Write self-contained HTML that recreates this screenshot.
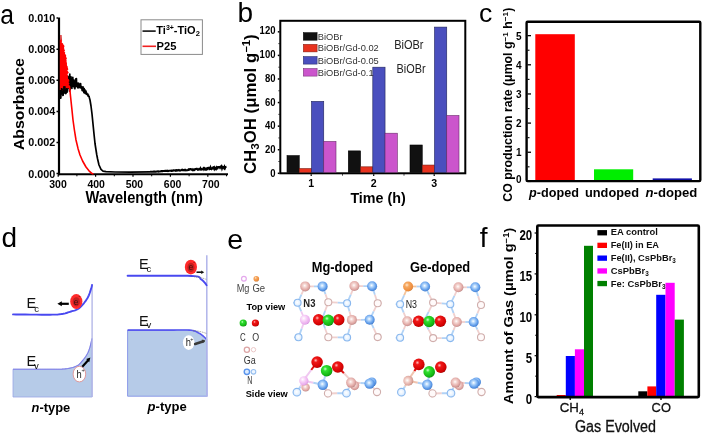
<!DOCTYPE html>
<html><head><meta charset="utf-8"><style>
html,body{margin:0;padding:0;background:#fff;}
body{width:704px;height:434px;overflow:hidden;}
svg{display:block;filter:blur(0.35px);}
text{font-family:"Liberation Sans",sans-serif;}
</style></head><body>
<svg width="704" height="434" viewBox="0 0 704 434" font-family="Liberation Sans, sans-serif">
<defs>
<radialGradient id="gGa" cx="0.45" cy="0.42" r="0.6"><stop offset="0" stop-color="#ffffff"/><stop offset="0.25" stop-color="#f6dad6"/><stop offset="0.7" stop-color="#e2aaa6"/><stop offset="0.9" stop-color="#cc9492"/><stop offset="1" stop-color="#b08280"/></radialGradient>
<radialGradient id="gN" cx="0.45" cy="0.42" r="0.6"><stop offset="0" stop-color="#ffffff"/><stop offset="0.25" stop-color="#bcdcfc"/><stop offset="0.7" stop-color="#64a0ec"/><stop offset="0.9" stop-color="#4c88d8"/><stop offset="1" stop-color="#3c70bc"/></radialGradient>
<radialGradient id="gO" cx="0.38" cy="0.35" r="0.7"><stop offset="0" stop-color="#ffc0c0"/><stop offset="0.25" stop-color="#f01818"/><stop offset="0.85" stop-color="#d00000"/><stop offset="1" stop-color="#900000"/></radialGradient>
<radialGradient id="gC" cx="0.38" cy="0.35" r="0.7"><stop offset="0" stop-color="#d0ffd0"/><stop offset="0.25" stop-color="#30e030"/><stop offset="0.85" stop-color="#10b010"/><stop offset="1" stop-color="#087008"/></radialGradient>
<radialGradient id="gMg" cx="0.38" cy="0.35" r="0.7"><stop offset="0" stop-color="#ffffff"/><stop offset="0.35" stop-color="#f8d4f8"/><stop offset="0.85" stop-color="#e8a8ec"/><stop offset="1" stop-color="#c888d0"/></radialGradient>
<radialGradient id="gGe" cx="0.38" cy="0.35" r="0.7"><stop offset="0" stop-color="#ffe8d0"/><stop offset="0.3" stop-color="#f6a860"/><stop offset="0.85" stop-color="#ec8a3a"/><stop offset="1" stop-color="#c06a20"/></radialGradient>
<radialGradient id="gGaR" cx="0.45" cy="0.45" r="0.6"><stop offset="0" stop-color="#ffffff"/><stop offset="0.55" stop-color="#fdf6f6"/><stop offset="0.8" stop-color="#ead2d0"/><stop offset="1" stop-color="#c8a4a2"/></radialGradient>
<radialGradient id="gNR" cx="0.45" cy="0.45" r="0.6"><stop offset="0" stop-color="#ffffff"/><stop offset="0.45" stop-color="#e4f2ff"/><stop offset="0.8" stop-color="#aad2f8"/><stop offset="1" stop-color="#78acea"/></radialGradient>
<radialGradient id="gNR2" cx="0.45" cy="0.45" r="0.6"><stop offset="0" stop-color="#ffffff"/><stop offset="0.6" stop-color="#e6f2ff"/><stop offset="1" stop-color="#c4defa"/></radialGradient>
<radialGradient id="gGeS" cx="0.4" cy="0.45" r="0.65"><stop offset="0" stop-color="#ffffff"/><stop offset="0.4" stop-color="#f0c8c0"/><stop offset="0.8" stop-color="#d8a098"/><stop offset="1" stop-color="#a87050"/></radialGradient>
</defs>
<rect width="704" height="434" fill="#fff"/>
<text transform="translate(0.3,24.2) scale(0.88,1)" font-size="28">a</text>
<line x1="59.0" y1="17.5" x2="59.0" y2="175.2" stroke="#000" stroke-width="2.2" />
<line x1="57.8" y1="174.2" x2="228" y2="174.2" stroke="#000" stroke-width="2" />
<line x1="56.5" y1="18.1" x2="58" y2="18.1" stroke="#000" stroke-width="1.5" />
<text x="55.3" y="22.0" font-size="11" font-weight="bold" text-anchor="end" fill="#000" textLength="27" lengthAdjust="spacingAndGlyphs" >0.010</text>
<line x1="56.5" y1="49.2" x2="58" y2="49.2" stroke="#000" stroke-width="1.5" />
<text x="55.3" y="53.1" font-size="11" font-weight="bold" text-anchor="end" fill="#000" textLength="27" lengthAdjust="spacingAndGlyphs" >0.008</text>
<line x1="56.5" y1="80.3" x2="58" y2="80.3" stroke="#000" stroke-width="1.5" />
<text x="55.3" y="84.2" font-size="11" font-weight="bold" text-anchor="end" fill="#000" textLength="27" lengthAdjust="spacingAndGlyphs" >0.006</text>
<line x1="56.5" y1="111.4" x2="58" y2="111.4" stroke="#000" stroke-width="1.5" />
<text x="55.3" y="115.30000000000001" font-size="11" font-weight="bold" text-anchor="end" fill="#000" textLength="27" lengthAdjust="spacingAndGlyphs" >0.004</text>
<line x1="56.5" y1="142.5" x2="58" y2="142.5" stroke="#000" stroke-width="1.5" />
<text x="55.3" y="146.4" font-size="11" font-weight="bold" text-anchor="end" fill="#000" textLength="27" lengthAdjust="spacingAndGlyphs" >0.002</text>
<line x1="56.5" y1="173.6" x2="58" y2="173.6" stroke="#000" stroke-width="1.5" />
<text x="55.3" y="177.5" font-size="11" font-weight="bold" text-anchor="end" fill="#000" textLength="27" lengthAdjust="spacingAndGlyphs" >0.000</text>
<text x="58.0" y="188.2" font-size="11" font-weight="bold" text-anchor="middle" fill="#000" textLength="17.5" lengthAdjust="spacingAndGlyphs" >300</text>
<line x1="58.2" y1="175" x2="58.2" y2="176.8" stroke="#000" stroke-width="1.2" />
<text x="96.2" y="188.2" font-size="11" font-weight="bold" text-anchor="middle" fill="#000" textLength="17.5" lengthAdjust="spacingAndGlyphs" >400</text>
<line x1="95.6" y1="175" x2="95.6" y2="176.8" stroke="#000" stroke-width="1.2" />
<text x="134.4" y="188.2" font-size="11" font-weight="bold" text-anchor="middle" fill="#000" textLength="17.5" lengthAdjust="spacingAndGlyphs" >500</text>
<line x1="133.0" y1="175" x2="133.0" y2="176.8" stroke="#000" stroke-width="1.2" />
<text x="172.60000000000002" y="188.2" font-size="11" font-weight="bold" text-anchor="middle" fill="#000" textLength="17.5" lengthAdjust="spacingAndGlyphs" >600</text>
<line x1="170.4" y1="175" x2="170.4" y2="176.8" stroke="#000" stroke-width="1.2" />
<text x="210.8" y="188.2" font-size="11" font-weight="bold" text-anchor="middle" fill="#000" textLength="17.5" lengthAdjust="spacingAndGlyphs" >700</text>
<line x1="207.8" y1="175" x2="207.8" y2="176.8" stroke="#000" stroke-width="1.2" />
<line x1="76.9" y1="175" x2="76.9" y2="176.3" stroke="#000" stroke-width="1" />
<line x1="114.30000000000001" y1="175" x2="114.30000000000001" y2="176.3" stroke="#000" stroke-width="1" />
<line x1="151.7" y1="175" x2="151.7" y2="176.3" stroke="#000" stroke-width="1" />
<line x1="189.10000000000002" y1="175" x2="189.10000000000002" y2="176.3" stroke="#000" stroke-width="1" />
<line x1="226.5" y1="175" x2="226.5" y2="176.3" stroke="#000" stroke-width="1" />
<text x="85.4" y="202.7" font-size="16.2" font-weight="bold" text-anchor="start" fill="#000" textLength="117.4" lengthAdjust="spacingAndGlyphs" >Wavelength (nm)</text>
<text transform="translate(23.6,150.3) rotate(-90)" font-size="14.8" font-weight="bold" textLength="92.3" lengthAdjust="spacingAndGlyphs">Absorbance</text>
<rect x="141" y="19.8" width="61.4" height="34.6" fill="#fff" stroke="#8a8a8a" stroke-width="1" />
<line x1="142.5" y1="31.1" x2="155.7" y2="31.1" stroke="#111" stroke-width="1.6" />
<line x1="142.5" y1="46.3" x2="156" y2="46.3" stroke="#f02020" stroke-width="1.6" />
<text x="156.3" y="33.6" font-size="11" font-weight="bold">Ti<tspan dy="-4" font-size="7">3+</tspan><tspan dy="4">-TiO</tspan><tspan dy="2.5" font-size="7.5">2</tspan></text>
<text x="156.6" y="49.8" font-size="11.3" font-weight="bold" text-anchor="start" fill="#000" textLength="19.9" lengthAdjust="spacingAndGlyphs" >P25</text>
<path d="M59.60,83.15 L59.90,98.02 L60.20,85.86 L60.50,98.09 L60.80,84.18 L61.10,94.54 L61.40,79.04 L61.70,92.51 L62.00,78.36 L62.30,92.65 L62.60,78.36 L62.90,95.40 L63.20,81.35 L63.50,88.10 L63.80,78.24 L64.10,93.21 L64.40,82.51 L64.70,86.17 L65.00,81.69 L65.30,90.76 L65.60,84.96 L65.90,93.54 L66.20,83.56 L66.50,91.01 L66.80,76.79 L67.10,92.18 L67.40,77.89 L67.70,85.56 L68.00,76.37 L68.30,87.30 L68.60,80.11 L68.90,88.81 L69.20,78.92 L69.50,91.24 L69.80,74.16 L70.10,89.62 L70.40,79.77 L70.70,87.54 L71.00,76.90 L71.30,86.15 L71.60,78.36 L71.90,88.37 L72.20,81.29 L72.50,85.21 L72.80,77.40 L73.10,86.11 L73.40,79.75 L73.70,84.01 L74.00,81.39 L74.30,87.90 L74.60,83.18 L74.90,88.81 L75.20,79.93 L75.50,85.00 L75.80,78.74 L76.10,86.71 L76.40,78.52 L76.70,85.83 L77.00,82.86 L77.30,86.48 L77.60,83.71 L77.90,87.92 L78.20,83.17 L78.50,86.75 L78.80,83.25 L79.10,87.60 L79.40,84.92 L79.70,85.98 L80.00,84.16 L80.30,87.50 L80.60,83.60 L80.90,88.03 L81.20,86.32 L81.50,87.80 L81.80,87.61 L82.10,90.53 L82.40,87.12 L82.70,90.06 L83.00,86.93 L83.30,91.21 L83.60,88.12 L83.90,92.63 L84.20,88.66 L84.50,91.72 L84.80,89.63 L85.10,93.47 L85.40,90.97 L85.70,92.81 L86.00,91.15 L86.30,94.26 L86.60,92.85 L86.90,94.17 L87.20,94.06 L87.50,94.90 L87.80,94.08 L88.10,96.16 L88.40,95.02 L88.70,96.27 L89.00,96.46 L89.00,96.50 L90.00,100.00 L91.00,106.00 L92.00,114.00 L93.00,124.00 L94.00,134.00 L95.00,143.50 L96.00,150.00 L96.80,155.00 L97.60,159.00 L99.00,165.00 L101.00,169.40 L103.00,171.10 L106.00,171.70 L115.00,172.00 L130.00,172.10 L150.00,171.90" fill="none" stroke="#000" stroke-width="1.7" stroke-linejoin="round"/>
<path d="M150.00,171.76 L150.50,171.74 L151.00,171.74 L151.50,171.71 L152.00,171.78 L152.50,171.80 L153.00,171.64 L153.50,171.51 L154.00,171.65 L154.50,171.60 L155.00,171.65 L155.50,171.78 L156.00,171.65 L156.50,171.55 L157.00,171.56 L157.50,171.56 L158.00,171.28 L158.50,171.59 L159.00,171.52 L159.50,171.53 L160.00,171.47 L160.50,171.28 L161.00,171.25 L161.50,171.11 L162.00,171.29 L162.50,171.04 L163.00,171.01 L163.50,171.04 L164.00,170.99 L164.50,171.04 L165.00,170.90 L165.50,170.85 L166.00,170.88 L166.50,170.83 L167.00,170.91 L167.50,170.75 L168.00,171.06 L168.50,170.93 L169.00,170.71 L169.50,170.73 L170.00,170.74 L170.50,170.72 L171.00,170.58 L171.50,170.88 L172.00,170.93 L172.50,170.65 L173.00,170.63 L173.50,170.38 L174.00,170.36 L174.50,170.46 L175.00,170.38 L175.50,170.70 L176.00,170.25 L176.50,170.13 L177.00,170.72 L177.50,170.41 L178.00,170.11 L178.50,170.36 L179.00,169.95 L179.50,170.30 L180.00,170.63 L180.50,170.52 L181.00,170.36 L181.50,169.96 L182.00,170.02 L182.50,169.82 L183.00,170.33 L183.50,170.09 L184.00,170.30 L184.50,169.84 L185.00,169.70 L185.50,170.26 L186.00,170.42 L186.50,170.26 L187.00,170.19 L187.50,170.18 L188.00,170.08 L188.50,169.47 L189.00,169.78 L189.50,169.56 L190.00,169.14 L190.50,169.10 L191.00,169.36 L191.50,169.30 L192.00,169.81 L192.50,170.12 L193.00,169.43 L193.50,170.04 L194.00,170.08 L194.50,170.01 L195.00,169.17 L195.50,168.93 L196.00,168.90 L196.50,168.82 L197.00,168.79 L197.50,169.37 L198.00,169.76 L198.50,169.64 L199.00,169.06 L199.50,169.29 L200.00,169.49 L200.50,168.32 L201.00,169.21 L201.50,169.59 L202.00,169.35 L202.50,169.27 L203.00,168.78 L203.50,168.23 L204.00,169.25 L204.50,168.42 L205.00,169.21 L205.50,169.49 L206.00,168.42 L206.50,168.40 L207.00,169.37 L207.50,168.93 L208.00,167.85 L208.50,167.73 L209.00,167.73 L209.50,169.16 L210.00,168.94 L210.50,167.60 L211.00,168.93 L211.50,169.21 L212.00,168.53 L212.50,167.86 L213.00,168.24 L213.50,167.32 L214.00,167.03 L214.50,169.05 L215.00,168.32 L215.50,168.01 L216.00,168.85 L216.50,167.70 L217.00,168.63 L217.50,168.48 L218.00,167.03 L218.50,167.06 L219.00,167.10 L219.50,166.92 L220.00,167.68 L220.50,166.85 L221.00,167.18 L221.50,166.43 L222.00,168.27 L222.50,166.86 L223.00,167.06 L223.50,167.32 L224.00,168.08 L224.50,166.81 L225.00,168.03 L225.50,166.91 L226.00,166.93 L226.50,166.86" fill="none" stroke="#000" stroke-width="2.1"/>
<polygon points="59.80,39.80 61.43,39.80 62.20,40.70 61.89,41.60 61.70,42.50 63.07,43.40 63.20,44.30 64.01,45.20 64.48,46.10 64.27,47.00 63.97,47.90 64.34,48.80 64.47,49.70 65.05,50.60 64.25,51.50 65.26,52.40 64.98,53.30 65.23,54.20 66.23,55.10 66.01,56.00 66.19,56.90 66.60,57.80 66.93,58.70 66.27,59.60 66.63,60.50 66.55,61.40 66.66,62.30 67.08,63.20 66.82,64.10 67.07,65.00 67.11,65.90 67.98,66.80 67.70,67.70 68.10,68.60 68.32,69.50 67.33,70.40 67.92,71.30 68.65,72.20 68.59,73.10 67.57,74.00 67.64,74.90 68.24,75.80 67.74,76.70 68.10,77.60 67.93,78.50 68.96,79.40 69.23,80.30 69.49,81.20 68.38,82.10 69.36,83.00 69.36,83.90 68.61,84.80 69.88,85.70 70.11,86.60 69.00,87.50 70.26,88.40 66.00,88.00 63.00,91.00 61.00,90.00 59.80,90.00" fill="#ff0000"/>
<path d="M60.6,40 L60.9,35 L61.5,40" fill="none" stroke="#d83030" stroke-width="1"/>
<path d="M69.30,86.00 L69.80,88.80 L70.50,96.00 L71.70,107.30 L73.00,120.00 L74.40,130.00 L76.00,140.00 L78.00,148.40 L80.00,155.00 L82.60,161.00 L86.00,167.00 L89.00,170.80 L91.50,173.20 L93.50,174.00" fill="none" stroke="#ff0000" stroke-width="1.6" stroke-linejoin="round"/>
<path d="M60.00,91.18 L60.35,92.33 L60.70,98.87 L61.05,96.82 L61.40,88.10 L61.75,91.61 L62.10,92.70 L62.45,90.41 L62.80,88.54 L63.15,90.14 L63.50,95.39 L63.85,86.25 L64.20,93.20 L64.55,91.73 L64.90,86.24 L65.25,90.31 L65.60,94.11 L65.95,92.66" fill="none" stroke="#000" stroke-width="1"/>
<text x="237.5" y="22.1" font-size="28" text-anchor="start" fill="#000" >b</text>
<rect x="280.3" y="20.8" width="185" height="152.5" fill="none" stroke="#000" stroke-width="2" />
<line x1="277.8" y1="173.3" x2="279.5" y2="173.3" stroke="#000" stroke-width="1.5" />
<text x="275.5" y="176.8" font-size="10.6" font-weight="bold" text-anchor="end" fill="#000" textLength="5.3" lengthAdjust="spacingAndGlyphs" >0</text>
<line x1="277.8" y1="149.72" x2="279.5" y2="149.72" stroke="#000" stroke-width="1.5" />
<text x="275.5" y="153.08" font-size="10.6" font-weight="bold" text-anchor="end" fill="#000" textLength="10.6" lengthAdjust="spacingAndGlyphs" >20</text>
<line x1="277.8" y1="126.14000000000001" x2="279.5" y2="126.14000000000001" stroke="#000" stroke-width="1.5" />
<text x="275.5" y="129.36" font-size="10.6" font-weight="bold" text-anchor="end" fill="#000" textLength="10.6" lengthAdjust="spacingAndGlyphs" >40</text>
<line x1="277.8" y1="102.56" x2="279.5" y2="102.56" stroke="#000" stroke-width="1.5" />
<text x="275.5" y="105.64" font-size="10.6" font-weight="bold" text-anchor="end" fill="#000" textLength="10.6" lengthAdjust="spacingAndGlyphs" >60</text>
<line x1="277.8" y1="78.98" x2="279.5" y2="78.98" stroke="#000" stroke-width="1.5" />
<text x="275.5" y="81.92" font-size="10.6" font-weight="bold" text-anchor="end" fill="#000" textLength="10.6" lengthAdjust="spacingAndGlyphs" >80</text>
<line x1="277.8" y1="55.400000000000006" x2="279.5" y2="55.400000000000006" stroke="#000" stroke-width="1.5" />
<text x="275.5" y="58.2" font-size="10.6" font-weight="bold" text-anchor="end" fill="#000" textLength="15.9" lengthAdjust="spacingAndGlyphs" >100</text>
<line x1="277.8" y1="31.819999999999993" x2="279.5" y2="31.819999999999993" stroke="#000" stroke-width="1.5" />
<text x="275.5" y="34.480000000000004" font-size="10.6" font-weight="bold" text-anchor="end" fill="#000" textLength="15.9" lengthAdjust="spacingAndGlyphs" >120</text>
<line x1="278.5" y1="161.51000000000002" x2="279.5" y2="161.51000000000002" stroke="#000" stroke-width="1" />
<line x1="278.5" y1="137.93" x2="279.5" y2="137.93" stroke="#000" stroke-width="1" />
<line x1="278.5" y1="114.35000000000001" x2="279.5" y2="114.35000000000001" stroke="#000" stroke-width="1" />
<line x1="278.5" y1="90.77000000000001" x2="279.5" y2="90.77000000000001" stroke="#000" stroke-width="1" />
<line x1="278.5" y1="67.19000000000001" x2="279.5" y2="67.19000000000001" stroke="#000" stroke-width="1" />
<line x1="278.5" y1="43.610000000000014" x2="279.5" y2="43.610000000000014" stroke="#000" stroke-width="1" />
<rect x="287.00" y="155.62" width="12.25" height="16.69" fill="#111111" stroke="#000" stroke-width="0.6"/>
<rect x="299.25" y="168.58" width="12.25" height="3.72" fill="#e8321e" stroke="#7a1a10" stroke-width="0.6"/>
<rect x="311.50" y="101.38" width="12.25" height="70.92" fill="#4a4fbe" stroke="#20245a" stroke-width="0.6"/>
<rect x="323.75" y="141.47" width="12.25" height="30.83" fill="#cb55cc" stroke="#6a2a6a" stroke-width="0.6"/>
<rect x="348.30" y="150.90" width="12.25" height="21.40" fill="#111111" stroke="#000" stroke-width="0.6"/>
<rect x="360.55" y="166.82" width="12.25" height="5.48" fill="#e8321e" stroke="#7a1a10" stroke-width="0.6"/>
<rect x="372.80" y="67.19" width="12.25" height="105.11" fill="#4a4fbe" stroke="#20245a" stroke-width="0.6"/>
<rect x="385.05" y="133.21" width="12.25" height="39.09" fill="#cb55cc" stroke="#6a2a6a" stroke-width="0.6"/>
<rect x="410.00" y="145.00" width="12.25" height="27.30" fill="#111111" stroke="#000" stroke-width="0.6"/>
<rect x="422.25" y="165.05" width="12.25" height="7.25" fill="#e8321e" stroke="#7a1a10" stroke-width="0.6"/>
<rect x="434.50" y="27.10" width="12.25" height="145.20" fill="#4a4fbe" stroke="#20245a" stroke-width="0.6"/>
<rect x="446.75" y="115.53" width="12.25" height="56.77" fill="#cb55cc" stroke="#6a2a6a" stroke-width="0.6"/>
<line x1="311.2" y1="174.3" x2="311.2" y2="176" stroke="#000" stroke-width="1.2" />
<text x="311.2" y="187.2" font-size="10.6" font-weight="bold" text-anchor="middle" fill="#000" >1</text>
<line x1="373.7" y1="174.3" x2="373.7" y2="176" stroke="#000" stroke-width="1.2" />
<text x="373.7" y="187.2" font-size="10.6" font-weight="bold" text-anchor="middle" fill="#000" >2</text>
<line x1="434.2" y1="174.3" x2="434.2" y2="176" stroke="#000" stroke-width="1.2" />
<text x="434.2" y="187.2" font-size="10.6" font-weight="bold" text-anchor="middle" fill="#000" >3</text>
<line x1="342.5" y1="174.3" x2="342.5" y2="175.5" stroke="#000" stroke-width="1" />
<line x1="404" y1="174.3" x2="404" y2="175.5" stroke="#000" stroke-width="1" />
<text x="350.4" y="203.3" font-size="15.5" font-weight="bold" text-anchor="start" fill="#000" textLength="55.4" lengthAdjust="spacingAndGlyphs" >Time (h)</text>
<rect x="303.3" y="32.6" width="13.8" height="7.6" fill="#111111" stroke="#000" stroke-width="0.5" />
<text x="317.8" y="39.7" font-size="9.3" text-anchor="start" fill="#333" >BiOBr</text>
<rect x="303.3" y="44.3" width="13.8" height="7.6" fill="#e8321e" stroke="#7a1a10" stroke-width="0.5" />
<text x="317.8" y="51.4" font-size="9.3" text-anchor="start" fill="#333" >BiOBr/Gd-0.02</text>
<rect x="303.3" y="56.5" width="13.8" height="7.6" fill="#4a4fbe" stroke="#20245a" stroke-width="0.5" />
<text x="317.8" y="63.6" font-size="9.3" text-anchor="start" fill="#333" >BiOBr/Gd-0.05</text>
<rect x="303.3" y="68.5" width="13.8" height="7.6" fill="#cb55cc" stroke="#6a2a6a" stroke-width="0.5" />
<text x="317.8" y="75.6" font-size="9.3" text-anchor="start" fill="#333" >BiOBr/Gd-0.1</text>
<text x="394.2" y="49" font-size="12" text-anchor="start" fill="#222" textLength="29.3" lengthAdjust="spacingAndGlyphs" >BiOBr</text>
<text x="396.6" y="73" font-size="12" text-anchor="start" fill="#222" textLength="29" lengthAdjust="spacingAndGlyphs" >BiOBr</text>
<text transform="translate(255.7,174) rotate(-90)" font-size="15.8" font-weight="bold" textLength="139.5" lengthAdjust="spacingAndGlyphs">CH<tspan dy="3.5" font-size="11">3</tspan><tspan dy="-3.5">OH (μmol g</tspan><tspan dy="-6" font-size="10.5">−1</tspan><tspan dy="6">)</tspan></text>
<text transform="translate(479,21.5) scale(0.95,0.93)" font-size="28">c</text>
<line x1="527.5" y1="181.4" x2="531" y2="181.4" stroke="#000" stroke-width="1.3" />
<text x="521.6" y="183.20000000000002" font-size="10" font-weight="bold" text-anchor="end" fill="#000" >0</text>
<line x1="527.5" y1="152.25" x2="531" y2="152.25" stroke="#000" stroke-width="1.3" />
<text x="521.6" y="156.25" font-size="10" font-weight="bold" text-anchor="end" fill="#000" >1</text>
<line x1="527.5" y1="123.10000000000001" x2="531" y2="123.10000000000001" stroke="#000" stroke-width="1.3" />
<text x="521.6" y="127.10000000000001" font-size="10" font-weight="bold" text-anchor="end" fill="#000" >2</text>
<line x1="527.5" y1="93.95000000000002" x2="531" y2="93.95000000000002" stroke="#000" stroke-width="1.3" />
<text x="521.6" y="97.95000000000002" font-size="10" font-weight="bold" text-anchor="end" fill="#000" >3</text>
<line x1="527.5" y1="64.80000000000001" x2="531" y2="64.80000000000001" stroke="#000" stroke-width="1.3" />
<text x="521.6" y="68.80000000000001" font-size="10" font-weight="bold" text-anchor="end" fill="#000" >4</text>
<line x1="527.5" y1="35.650000000000006" x2="531" y2="35.650000000000006" stroke="#000" stroke-width="1.3" />
<text x="521.6" y="39.650000000000006" font-size="10" font-weight="bold" text-anchor="end" fill="#000" >5</text>
<line x1="527.5" y1="166.82500000000002" x2="529.5" y2="166.82500000000002" stroke="#000" stroke-width="1.1" />
<line x1="527.5" y1="137.675" x2="529.5" y2="137.675" stroke="#000" stroke-width="1.1" />
<line x1="527.5" y1="108.525" x2="529.5" y2="108.525" stroke="#000" stroke-width="1.1" />
<line x1="527.5" y1="79.37500000000001" x2="529.5" y2="79.37500000000001" stroke="#000" stroke-width="1.1" />
<line x1="527.5" y1="50.22500000000002" x2="529.5" y2="50.22500000000002" stroke="#000" stroke-width="1.1" />
<rect x="535.3" y="34.2" width="39.5" height="146.89999999999998" fill="#ff0000" stroke="none" stroke-width="0" />
<rect x="594.0" y="169.3" width="39.2" height="11.8" fill="#00ee00" stroke="none" stroke-width="0" />
<rect x="652.7" y="178.4" width="39.2" height="2.7" fill="#1010a8" stroke="none" stroke-width="0" />
<rect x="526.6" y="21.8" width="173.7" height="159.3" fill="none" stroke="#000" stroke-width="2.4" rx="1"/>
<text x="529" y="197.4" font-size="13" font-weight="bold" textLength="49.9" lengthAdjust="spacingAndGlyphs"><tspan font-style="italic">p</tspan>-doped</text>
<text x="585" y="197.4" font-size="13" font-weight="bold" text-anchor="start" fill="#000" textLength="54" lengthAdjust="spacingAndGlyphs" >undoped</text>
<text x="645.6" y="197.4" font-size="13" font-weight="bold" textLength="51.8" lengthAdjust="spacingAndGlyphs"><tspan font-style="italic">n</tspan>-doped</text>
<text transform="translate(512,201.7) rotate(-90)" font-size="12" font-weight="bold" textLength="194" lengthAdjust="spacingAndGlyphs">CO production rate (μmol g<tspan dy="-4.5" font-size="8">−1</tspan><tspan dy="4.5"> h</tspan><tspan dy="-4.5" font-size="8">−1</tspan><tspan dy="4.5">)</tspan></text>
<text x="1.5" y="247.3" font-size="28" text-anchor="start" fill="#000" >d</text>
<polygon points="13.00,369.20 16.00,369.20 20.16,369.21 25.13,369.21 30.56,369.22 36.11,369.22 41.43,369.22 46.17,369.21 50.00,369.20 52.95,369.19 55.38,369.20 57.39,369.22 59.09,369.23 60.60,369.21 62.01,369.16 63.44,369.06 65.00,368.90 66.64,368.69 68.25,368.43 69.82,368.14 71.33,367.81 72.76,367.44 74.11,367.03 75.36,366.58 76.50,366.10 77.51,365.57 78.38,364.99 79.15,364.37 79.83,363.72 80.46,363.04 81.07,362.33 81.67,361.62 82.30,360.90 82.94,360.17 83.57,359.42 84.19,358.64 84.78,357.86 85.35,357.05 85.90,356.24 86.41,355.42 86.90,354.60 87.35,353.78 87.76,352.97 88.14,352.16 88.50,351.33 88.84,350.48 89.16,349.60 89.48,348.68 89.80,347.70 90.12,346.60 90.45,345.35 90.77,344.01 91.08,342.67 91.37,341.38 91.62,340.21 91.84,339.23 92.00,338.50 92.1,397 13,397" fill="#b6cbe8" stroke="#9aa6e6" stroke-width="0.8"/>
<polyline points="13.00,369.20 16.00,369.20 20.16,369.21 25.13,369.21 30.56,369.22 36.11,369.22 41.43,369.22 46.17,369.21 50.00,369.20 52.95,369.19 55.38,369.20 57.39,369.22 59.09,369.23 60.60,369.21 62.01,369.16 63.44,369.06 65.00,368.90 66.64,368.69 68.25,368.43 69.82,368.14 71.33,367.81 72.76,367.44 74.11,367.03 75.36,366.58 76.50,366.10 77.51,365.57 78.38,364.99 79.15,364.37 79.83,363.72 80.46,363.04 81.07,362.33 81.67,361.62 82.30,360.90 82.94,360.17 83.57,359.42 84.19,358.64 84.78,357.86 85.35,357.05 85.90,356.24 86.41,355.42 86.90,354.60 87.35,353.78 87.76,352.97 88.14,352.16 88.50,351.33 88.84,350.48 89.16,349.60 89.48,348.68 89.80,347.70 90.12,346.60 90.45,345.35 90.77,344.01 91.08,342.67 91.37,341.38 91.62,340.21 91.84,339.23 92.00,338.50" fill="none" stroke="#8080e8" stroke-width="1.1"/>
<line x1="92.1" y1="285" x2="92.1" y2="397" stroke="#b4b8e8" stroke-width="1.4" />
<polyline points="13.00,314.40 16.03,314.43 20.23,314.48 25.26,314.53 30.75,314.59 36.33,314.65 41.64,314.69 46.32,314.71 50.00,314.70 52.72,314.67 54.85,314.63 56.51,314.58 57.81,314.51 58.89,314.42 59.87,314.30 60.86,314.17 62.00,314.00 63.19,313.80 64.28,313.57 65.29,313.31 66.25,313.03 67.18,312.73 68.09,312.43 69.03,312.11 70.00,311.80 71.02,311.50 72.05,311.21 73.10,310.92 74.14,310.62 75.16,310.29 76.15,309.92 77.11,309.49 78.00,309.00 78.84,308.44 79.63,307.81 80.39,307.13 81.11,306.41 81.81,305.66 82.49,304.88 83.15,304.09 83.80,303.30 84.44,302.50 85.07,301.67 85.69,300.83 86.28,299.96 86.85,299.08 87.40,298.17 87.91,297.25 88.40,296.30 88.86,295.29 89.30,294.19 89.71,293.05 90.09,291.90 90.45,290.78 90.77,289.73 91.05,288.79 91.30,288.00 91.50,287.35 91.65,286.81 91.75,286.35 91.83,285.98 91.89,285.67 91.93,285.41 91.96,285.20 92.00,285.00" fill="none" stroke="#4848f0" stroke-width="1.9" stroke-linecap="round"/>
<ellipse cx="76.3" cy="301.5" rx="6.1" ry="7.4" fill="#ff2a2a"/>
<ellipse cx="76.3" cy="301.8" rx="3.6" ry="4.6" fill="#c42020"/>
<text x="73.8" y="304.7" font-size="8.5" fill="#3a1010">e</text>
<text x="78.6" y="298.3" font-size="5" fill="#3a1010">-</text>
<line x1="60.5" y1="303.8" x2="68.8" y2="303.8" stroke="#000" stroke-width="2.2" />
<polygon points="57.4,303.8 61.8,301.3 61.8,306.3" fill="#000"/>
<ellipse cx="79.4" cy="374.1" rx="6.3" ry="7.8" fill="#fff" stroke="#e09090" stroke-width="0.9"/>
<text x="76.5" y="377.8" font-size="10" fill="#222" textLength="5.2" lengthAdjust="spacingAndGlyphs">h</text>
<text x="81.4" y="371.6" font-size="5.5" fill="#222">+</text>
<line x1="82.3" y1="366.7" x2="88.4" y2="360.0" stroke="#000" stroke-width="2.1" />
<polygon points="90.4,357.6 86.2,359.0 89.2,362.2" fill="#000"/>
<text x="26.4" y="308.4" font-size="14.5" fill="#111">E<tspan x="34.3" y="312.4" font-size="9.5">c</tspan></text>
<text x="26.4" y="366.1" font-size="14.5" fill="#111">E<tspan x="33.9" y="368.8" font-size="9.5">v</tspan></text>
<text x="31.5" y="411.8" font-size="13" font-weight="bold" textLength="38.7" lengthAdjust="spacingAndGlyphs"><tspan font-style="italic">n</tspan>-type</text>
<polygon points="127.60,330.10 131.02,330.10 135.72,330.10 141.33,330.09 147.48,330.09 153.80,330.09 159.90,330.09 165.43,330.09 170.00,330.10 173.75,330.10 177.08,330.07 180.04,330.04 182.69,330.01 185.08,330.01 187.24,330.05 189.23,330.14 191.10,330.30 192.76,330.54 194.14,330.86 195.27,331.23 196.22,331.64 197.03,332.07 197.77,332.50 198.47,332.92 199.20,333.30 199.90,333.65 200.50,334.00 201.02,334.33 201.48,334.67 201.91,335.01 202.32,335.36 202.75,335.72 203.20,336.10 203.69,336.53 204.21,337.01 204.74,337.52 205.25,338.03 205.73,338.51 206.16,338.95 206.52,339.33 206.80,339.60 207.1,396.2 127.6,396.2" fill="#b6cbe8" stroke="#8c9ae8" stroke-width="1"/>
<polyline points="127.60,330.10 131.02,330.10 135.72,330.10 141.33,330.09 147.48,330.09 153.80,330.09 159.90,330.09 165.43,330.09 170.00,330.10 173.75,330.10 177.08,330.07 180.04,330.04 182.69,330.01 185.08,330.01 187.24,330.05 189.23,330.14 191.10,330.30 192.76,330.54 194.14,330.86 195.27,331.23 196.22,331.64 197.03,332.07 197.77,332.50 198.47,332.92 199.20,333.30 199.90,333.65 200.50,334.00 201.02,334.33 201.48,334.67 201.91,335.01 202.32,335.36 202.75,335.72 203.20,336.10 203.69,336.53 204.21,337.01 204.74,337.52 205.25,338.03 205.73,338.51 206.16,338.95 206.52,339.33 206.80,339.60" fill="none" stroke="#5858f0" stroke-width="1.6"/>
<line x1="206.8" y1="255.2" x2="206.8" y2="397" stroke="#b0b4ea" stroke-width="1.5" />
<polyline points="127.60,275.70 130.09,275.71 133.37,275.71 137.28,275.72 141.64,275.73 146.27,275.74 150.99,275.76 155.63,275.78 160.00,275.80 164.40,275.81 169.13,275.80 174.01,275.77 178.87,275.76 183.52,275.77 187.79,275.82 191.51,275.93 194.50,276.10 196.67,276.35 198.16,276.68 199.12,277.05 199.69,277.47 200.01,277.91 200.24,278.35 200.52,278.79 201.00,279.20 201.59,279.60 202.12,280.00 202.59,280.41 203.03,280.82 203.42,281.22 203.79,281.63 204.15,282.02 204.50,282.40 204.84,282.79 205.17,283.19 205.48,283.60 205.77,284.00 206.03,284.37 206.26,284.71 206.45,284.99 206.60,285.20" fill="none" stroke="#4848f0" stroke-width="1.9" stroke-linecap="round"/>
<path d="M194,276.8 Q201,277.2 206.5,279.5" fill="none" stroke="#777" stroke-width="0.8" stroke-dasharray="1,0.8"/>
<path d="M193,330.6 Q200,331 206.5,333.5" fill="none" stroke="#777" stroke-width="0.8" stroke-dasharray="1,0.8"/>
<ellipse cx="190.9" cy="267.1" rx="6.1" ry="7.4" fill="#ff2a2a"/>
<ellipse cx="190.9" cy="267.40000000000003" rx="3.6" ry="4.6" fill="#c42020"/>
<text x="188.4" y="270.3" font-size="8.5" fill="#3a1010">e</text>
<text x="193.20000000000002" y="263.90000000000003" font-size="5" fill="#3a1010">-</text>
<line x1="196.5" y1="272.2" x2="201.8" y2="272.2" stroke="#111" stroke-width="1.6" />
<polygon points="204.2,272.2 201.2,270.5 201.2,273.9" fill="#111"/>
<ellipse cx="188.7" cy="342.6" rx="5.8" ry="7.3" fill="#fff"/>
<text x="185.8" y="346.3" font-size="10" fill="#222" textLength="5.2" lengthAdjust="spacingAndGlyphs">h</text>
<text x="190.2" y="340.5" font-size="5.5" fill="#222">+</text>
<path d="M195.2,344 L203.5,341.2" stroke="#3a3a3a" stroke-width="2.6" stroke-linecap="round"/>
<polygon points="205.3,340.8 201.8,339.4 202.6,343.2" fill="#3a3a3a"/>
<text x="138.9" y="268.8" font-size="14.5" fill="#111">E<tspan x="146.4" y="271.5" font-size="9.5">c</tspan></text>
<text x="139.1" y="325.6" font-size="14.5" fill="#111">E<tspan x="146.6" y="328.3" font-size="9.5">v</tspan></text>
<text x="147.6" y="411" font-size="13" font-weight="bold" textLength="39.2" lengthAdjust="spacingAndGlyphs"><tspan font-style="italic">p</tspan>-type</text>
<text x="227.2" y="249.3" font-size="28.5" text-anchor="start" fill="#000" >e</text>
<text x="311.8" y="271.8" font-size="14.3" font-weight="bold" text-anchor="start" fill="#000" textLength="61.2" lengthAdjust="spacingAndGlyphs" >Mg-doped</text>
<text x="410" y="271.8" font-size="14.3" font-weight="bold" text-anchor="start" fill="#000" textLength="60.2" lengthAdjust="spacingAndGlyphs" >Ge-doped</text>
<text x="246.5" y="310.3" font-size="9.6" font-weight="bold" text-anchor="start" fill="#000" textLength="38.8" lengthAdjust="spacingAndGlyphs" >Top view</text>
<text x="245.7" y="396.5" font-size="9.6" font-weight="bold" text-anchor="start" fill="#000" textLength="42.1" lengthAdjust="spacingAndGlyphs" >Side view</text>
<text x="236.7" y="291.5" font-size="10" text-anchor="start" fill="#444" textLength="12.7" lengthAdjust="spacingAndGlyphs" >Mg</text>
<text x="252.4" y="291.5" font-size="10" text-anchor="start" fill="#444" textLength="12.7" lengthAdjust="spacingAndGlyphs" >Ge</text>
<text x="240" y="340.7" font-size="10" text-anchor="start" fill="#333" textLength="5.7" lengthAdjust="spacingAndGlyphs" >C</text>
<text x="252.3" y="340.7" font-size="10" text-anchor="start" fill="#333" textLength="6.9" lengthAdjust="spacingAndGlyphs" >O</text>
<text x="243.8" y="364.4" font-size="10" text-anchor="start" fill="#333" textLength="12" lengthAdjust="spacingAndGlyphs" >Ga</text>
<text x="247.2" y="384.3" font-size="10" text-anchor="start" fill="#333" textLength="5.1" lengthAdjust="spacingAndGlyphs" >N</text>
<circle cx="243.9" cy="278.7" r="2.4" fill="#fff" stroke="#e4a8ec" stroke-width="1.2"/>
<circle cx="256.3" cy="278.7" r="2.8" fill="url(#gGe)"/>
<circle cx="243.2" cy="323.0" r="3.6" fill="url(#gC)"/>
<circle cx="255.4" cy="323.0" r="3.6" fill="url(#gO)"/>
<circle cx="246.9" cy="349.7" r="2.6" fill="#fff" stroke="#dca4a4" stroke-width="1.3"/>
<circle cx="253.5" cy="349.7" r="2.2" fill="#fff" stroke="#ecc8c8" stroke-width="1"/>
<circle cx="246.9" cy="371.8" r="2.7" fill="#dcecff" stroke="#5a94ec" stroke-width="1.4"/>
<circle cx="253.5" cy="371.8" r="2.3" fill="#eef6ff" stroke="#98c0f0" stroke-width="1.1"/>
<line x1="305.2" y1="286.4" x2="313.9" y2="286.4" stroke="#f0d0ce" stroke-width="1.8"/>
<line x1="313.9" y1="286.4" x2="322.6" y2="286.4" stroke="#b0d2f6" stroke-width="1.8"/>
<line x1="354.4" y1="286.0" x2="363.2" y2="286.1" stroke="#f0d0ce" stroke-width="1.8"/>
<line x1="363.2" y1="286.1" x2="372.1" y2="286.2" stroke="#b0d2f6" stroke-width="1.8"/>
<line x1="305.2" y1="286.4" x2="301.4" y2="294.6" stroke="#f0d0ce" stroke-width="1.8"/>
<line x1="301.4" y1="294.6" x2="297.6" y2="302.8" stroke="#b0d2f6" stroke-width="1.8"/>
<line x1="322.6" y1="286.4" x2="325.5" y2="294.3" stroke="#b0d2f6" stroke-width="1.8"/>
<line x1="325.5" y1="294.3" x2="328.3" y2="302.2" stroke="#f0d0ce" stroke-width="1.8"/>
<line x1="354.4" y1="286.0" x2="350.8" y2="294.6" stroke="#f0d0ce" stroke-width="1.8"/>
<line x1="350.8" y1="294.6" x2="347.1" y2="303.2" stroke="#b0d2f6" stroke-width="1.8"/>
<line x1="372.1" y1="286.2" x2="374.9" y2="294.7" stroke="#b0d2f6" stroke-width="1.8"/>
<line x1="374.9" y1="294.7" x2="377.7" y2="303.2" stroke="#f0d0ce" stroke-width="1.8"/>
<line x1="328.3" y1="302.2" x2="337.7" y2="302.7" stroke="#f0d0ce" stroke-width="1.8"/>
<line x1="337.7" y1="302.7" x2="347.1" y2="303.2" stroke="#b0d2f6" stroke-width="1.8"/>
<line x1="297.6" y1="302.8" x2="301.2" y2="311.3" stroke="#b0d2f6" stroke-width="1.8"/>
<line x1="301.2" y1="311.3" x2="304.9" y2="319.8" stroke="#f0c8f0" stroke-width="1.8"/>
<line x1="347.1" y1="303.2" x2="349.5" y2="311.5" stroke="#b0d2f6" stroke-width="1.8"/>
<line x1="349.5" y1="311.5" x2="351.9" y2="319.9" stroke="#f0d0ce" stroke-width="1.8"/>
<line x1="377.7" y1="303.2" x2="373.7" y2="311.4" stroke="#f0d0ce" stroke-width="1.8"/>
<line x1="373.7" y1="311.4" x2="369.7" y2="319.7" stroke="#b0d2f6" stroke-width="1.8"/>
<line x1="351.9" y1="319.9" x2="360.8" y2="319.8" stroke="#f0d0ce" stroke-width="1.8"/>
<line x1="360.8" y1="319.8" x2="369.7" y2="319.7" stroke="#b0d2f6" stroke-width="1.8"/>
<line x1="304.9" y1="319.8" x2="301.7" y2="328.6" stroke="#f0c8f0" stroke-width="1.8"/>
<line x1="301.7" y1="328.6" x2="298.5" y2="337.3" stroke="#b0d2f6" stroke-width="1.8"/>
<line x1="351.9" y1="319.9" x2="349.5" y2="328.7" stroke="#f0d0ce" stroke-width="1.8"/>
<line x1="349.5" y1="328.7" x2="347.1" y2="337.5" stroke="#b0d2f6" stroke-width="1.8"/>
<line x1="369.7" y1="319.7" x2="373.7" y2="328.4" stroke="#b0d2f6" stroke-width="1.8"/>
<line x1="373.7" y1="328.4" x2="377.7" y2="337.1" stroke="#f0d0ce" stroke-width="1.8"/>
<line x1="328.3" y1="337.3" x2="337.7" y2="337.4" stroke="#f0d0ce" stroke-width="1.8"/>
<line x1="337.7" y1="337.4" x2="347.1" y2="337.5" stroke="#b0d2f6" stroke-width="1.8"/>
<line x1="328.3" y1="302.2" x2="325.1" y2="310.9" stroke="#f0d0ce" stroke-width="1.8"/>
<line x1="325.1" y1="310.9" x2="322.0" y2="319.7" stroke="#b0d2f6" stroke-width="1.8"/>
<line x1="328.3" y1="337.3" x2="325.1" y2="328.5" stroke="#f0d0ce" stroke-width="1.8"/>
<line x1="325.1" y1="328.5" x2="322.0" y2="319.7" stroke="#b0d2f6" stroke-width="1.8"/>
<line x1="305.2" y1="286.4" x2="303.2" y2="282.4" stroke="#f0d0ce" stroke-width="1.6"/>
<line x1="303.2" y1="282.4" x2="301.2" y2="278.4" stroke="#fff0" stroke-width="1.6"/>
<line x1="322.6" y1="286.4" x2="324.6" y2="282.4" stroke="#b0d2f6" stroke-width="1.6"/>
<line x1="324.6" y1="282.4" x2="326.6" y2="278.4" stroke="#fff0" stroke-width="1.6"/>
<line x1="354.4" y1="286.0" x2="352.4" y2="282.0" stroke="#f0d0ce" stroke-width="1.6"/>
<line x1="352.4" y1="282.0" x2="350.4" y2="278.0" stroke="#fff0" stroke-width="1.6"/>
<line x1="372.1" y1="286.2" x2="374.1" y2="282.2" stroke="#b0d2f6" stroke-width="1.6"/>
<line x1="374.1" y1="282.2" x2="376.1" y2="278.2" stroke="#fff0" stroke-width="1.6"/>
<line x1="297.6" y1="302.8" x2="293.1" y2="302.8" stroke="#b0d2f6" stroke-width="1.6"/>
<line x1="293.1" y1="302.8" x2="288.6" y2="302.8" stroke="#fff0" stroke-width="1.6"/>
<line x1="298.5" y1="337.3" x2="294.0" y2="337.3" stroke="#b0d2f6" stroke-width="1.6"/>
<line x1="294.0" y1="337.3" x2="289.5" y2="337.3" stroke="#fff0" stroke-width="1.6"/>
<line x1="377.7" y1="303.2" x2="381.7" y2="303.2" stroke="#f0d0ce" stroke-width="1.6"/>
<line x1="381.7" y1="303.2" x2="385.7" y2="303.2" stroke="#fff0" stroke-width="1.6"/>
<line x1="377.7" y1="337.1" x2="381.7" y2="337.1" stroke="#f0d0ce" stroke-width="1.6"/>
<line x1="381.7" y1="337.1" x2="385.7" y2="337.1" stroke="#fff0" stroke-width="1.6"/>
<line x1="298.5" y1="337.3" x2="300.0" y2="340.8" stroke="#b0d2f6" stroke-width="1.6"/>
<line x1="300.0" y1="340.8" x2="301.5" y2="344.3" stroke="#fff0" stroke-width="1.6"/>
<line x1="328.3" y1="337.3" x2="326.8" y2="340.8" stroke="#f0d0ce" stroke-width="1.6"/>
<line x1="326.8" y1="340.8" x2="325.3" y2="344.3" stroke="#fff0" stroke-width="1.6"/>
<line x1="347.1" y1="337.5" x2="348.6" y2="341.0" stroke="#b0d2f6" stroke-width="1.6"/>
<line x1="348.6" y1="341.0" x2="350.1" y2="344.5" stroke="#fff0" stroke-width="1.6"/>
<line x1="377.7" y1="337.1" x2="376.2" y2="340.6" stroke="#f0d0ce" stroke-width="1.6"/>
<line x1="376.2" y1="340.6" x2="374.7" y2="344.1" stroke="#fff0" stroke-width="1.6"/>
<circle cx="305.2" cy="286.4" r="5.0" fill="url(#gGa)"/>
<circle cx="322.6" cy="286.4" r="5.0" fill="url(#gN)"/>
<circle cx="354.4" cy="286.0" r="5.0" fill="url(#gGa)"/>
<circle cx="372.1" cy="286.2" r="5.0" fill="url(#gN)"/>
<circle cx="297.6" cy="302.8" r="3.5" fill="url(#gNR2)" stroke="#8ab8ee" stroke-width="1.1"/>
<circle cx="328.3" cy="302.2" r="3.5" fill="#fffafa" stroke="#d0aeac" stroke-width="1.1"/>
<circle cx="347.1" cy="303.2" r="3.5" fill="url(#gNR2)" stroke="#8ab8ee" stroke-width="1.1"/>
<circle cx="377.7" cy="303.2" r="3.5" fill="#fffafa" stroke="#d0aeac" stroke-width="1.1"/>
<circle cx="304.9" cy="319.8" r="5.0" fill="url(#gMg)"/>
<circle cx="351.9" cy="319.9" r="5.0" fill="url(#gGa)"/>
<circle cx="369.7" cy="319.7" r="5.0" fill="url(#gN)"/>
<circle cx="298.5" cy="337.3" r="3.5" fill="url(#gNR2)" stroke="#8ab8ee" stroke-width="1.1"/>
<circle cx="328.3" cy="337.3" r="3.5" fill="#fffafa" stroke="#d0aeac" stroke-width="1.1"/>
<circle cx="347.1" cy="337.5" r="3.5" fill="url(#gNR2)" stroke="#8ab8ee" stroke-width="1.1"/>
<circle cx="377.7" cy="337.1" r="3.5" fill="#fffafa" stroke="#d0aeac" stroke-width="1.1"/>
<line x1="408.1" y1="286.5" x2="416.6" y2="286.5" stroke="#f4c49a" stroke-width="1.8"/>
<line x1="416.6" y1="286.5" x2="425.1" y2="286.5" stroke="#b0d2f6" stroke-width="1.8"/>
<line x1="458.4" y1="287.3" x2="466.9" y2="287.3" stroke="#f0d0ce" stroke-width="1.8"/>
<line x1="466.9" y1="287.3" x2="475.3" y2="287.3" stroke="#b0d2f6" stroke-width="1.8"/>
<line x1="408.1" y1="286.5" x2="404.1" y2="295.4" stroke="#f4c49a" stroke-width="1.8"/>
<line x1="404.1" y1="295.4" x2="400.1" y2="304.2" stroke="#b0d2f6" stroke-width="1.8"/>
<line x1="425.1" y1="286.5" x2="429.1" y2="294.6" stroke="#b0d2f6" stroke-width="1.8"/>
<line x1="429.1" y1="294.6" x2="433.1" y2="302.6" stroke="#f0d0ce" stroke-width="1.8"/>
<line x1="458.4" y1="287.3" x2="454.4" y2="295.8" stroke="#f0d0ce" stroke-width="1.8"/>
<line x1="454.4" y1="295.8" x2="450.3" y2="304.2" stroke="#b0d2f6" stroke-width="1.8"/>
<line x1="475.3" y1="287.3" x2="478.1" y2="296.1" stroke="#b0d2f6" stroke-width="1.8"/>
<line x1="478.1" y1="296.1" x2="481.0" y2="305.0" stroke="#f0d0ce" stroke-width="1.8"/>
<line x1="433.1" y1="302.6" x2="441.7" y2="303.4" stroke="#f0d0ce" stroke-width="1.8"/>
<line x1="441.7" y1="303.4" x2="450.3" y2="304.2" stroke="#b0d2f6" stroke-width="1.8"/>
<line x1="400.1" y1="304.2" x2="403.7" y2="312.7" stroke="#b0d2f6" stroke-width="1.8"/>
<line x1="403.7" y1="312.7" x2="407.3" y2="321.2" stroke="#f0d0ce" stroke-width="1.8"/>
<line x1="450.3" y1="304.2" x2="453.6" y2="313.1" stroke="#b0d2f6" stroke-width="1.8"/>
<line x1="453.6" y1="313.1" x2="456.8" y2="322.0" stroke="#f0d0ce" stroke-width="1.8"/>
<line x1="481.0" y1="305.0" x2="477.4" y2="313.5" stroke="#f0d0ce" stroke-width="1.8"/>
<line x1="477.4" y1="313.5" x2="473.7" y2="322.0" stroke="#b0d2f6" stroke-width="1.8"/>
<line x1="456.8" y1="322.0" x2="465.2" y2="322.0" stroke="#f0d0ce" stroke-width="1.8"/>
<line x1="465.2" y1="322.0" x2="473.7" y2="322.0" stroke="#b0d2f6" stroke-width="1.8"/>
<line x1="407.3" y1="321.2" x2="403.7" y2="329.5" stroke="#f0d0ce" stroke-width="1.8"/>
<line x1="403.7" y1="329.5" x2="400.1" y2="337.8" stroke="#b0d2f6" stroke-width="1.8"/>
<line x1="456.8" y1="322.0" x2="453.6" y2="330.1" stroke="#f0d0ce" stroke-width="1.8"/>
<line x1="453.6" y1="330.1" x2="450.3" y2="338.1" stroke="#b0d2f6" stroke-width="1.8"/>
<line x1="473.7" y1="322.0" x2="477.4" y2="329.6" stroke="#b0d2f6" stroke-width="1.8"/>
<line x1="477.4" y1="329.6" x2="481.0" y2="337.3" stroke="#f0d0ce" stroke-width="1.8"/>
<line x1="433.1" y1="338.1" x2="441.7" y2="338.1" stroke="#f0d0ce" stroke-width="1.8"/>
<line x1="441.7" y1="338.1" x2="450.3" y2="338.1" stroke="#b0d2f6" stroke-width="1.8"/>
<line x1="433.1" y1="302.6" x2="428.6" y2="311.8" stroke="#f0d0ce" stroke-width="1.8"/>
<line x1="428.6" y1="311.8" x2="424.0" y2="321.0" stroke="#b0d2f6" stroke-width="1.8"/>
<line x1="433.1" y1="338.1" x2="428.6" y2="329.6" stroke="#f0d0ce" stroke-width="1.8"/>
<line x1="428.6" y1="329.6" x2="424.0" y2="321.0" stroke="#b0d2f6" stroke-width="1.8"/>
<line x1="408.1" y1="286.5" x2="406.1" y2="282.5" stroke="#f4c49a" stroke-width="1.6"/>
<line x1="406.1" y1="282.5" x2="404.1" y2="278.5" stroke="#fff0" stroke-width="1.6"/>
<line x1="425.1" y1="286.5" x2="427.1" y2="282.5" stroke="#b0d2f6" stroke-width="1.6"/>
<line x1="427.1" y1="282.5" x2="429.1" y2="278.5" stroke="#fff0" stroke-width="1.6"/>
<line x1="458.4" y1="287.3" x2="456.4" y2="283.3" stroke="#f0d0ce" stroke-width="1.6"/>
<line x1="456.4" y1="283.3" x2="454.4" y2="279.3" stroke="#fff0" stroke-width="1.6"/>
<line x1="475.3" y1="287.3" x2="477.3" y2="283.3" stroke="#b0d2f6" stroke-width="1.6"/>
<line x1="477.3" y1="283.3" x2="479.3" y2="279.3" stroke="#fff0" stroke-width="1.6"/>
<line x1="400.1" y1="304.2" x2="395.6" y2="304.2" stroke="#b0d2f6" stroke-width="1.6"/>
<line x1="395.6" y1="304.2" x2="391.1" y2="304.2" stroke="#fff0" stroke-width="1.6"/>
<line x1="400.1" y1="337.8" x2="395.6" y2="337.8" stroke="#b0d2f6" stroke-width="1.6"/>
<line x1="395.6" y1="337.8" x2="391.1" y2="337.8" stroke="#fff0" stroke-width="1.6"/>
<line x1="400.1" y1="337.8" x2="401.6" y2="341.3" stroke="#b0d2f6" stroke-width="1.6"/>
<line x1="401.6" y1="341.3" x2="403.1" y2="344.8" stroke="#fff0" stroke-width="1.6"/>
<line x1="433.1" y1="338.1" x2="431.6" y2="341.6" stroke="#f0d0ce" stroke-width="1.6"/>
<line x1="431.6" y1="341.6" x2="430.1" y2="345.1" stroke="#fff0" stroke-width="1.6"/>
<line x1="450.3" y1="338.1" x2="451.8" y2="341.6" stroke="#b0d2f6" stroke-width="1.6"/>
<line x1="451.8" y1="341.6" x2="453.3" y2="345.1" stroke="#fff0" stroke-width="1.6"/>
<line x1="481.0" y1="337.3" x2="479.5" y2="340.8" stroke="#f0d0ce" stroke-width="1.6"/>
<line x1="479.5" y1="340.8" x2="478.0" y2="344.3" stroke="#fff0" stroke-width="1.6"/>
<circle cx="408.1" cy="286.5" r="5.0" fill="url(#gGe)"/>
<circle cx="425.1" cy="286.5" r="5.0" fill="url(#gN)"/>
<circle cx="458.4" cy="287.3" r="5.0" fill="url(#gGa)"/>
<circle cx="475.3" cy="287.3" r="5.0" fill="url(#gN)"/>
<circle cx="400.1" cy="304.2" r="3.5" fill="url(#gNR2)" stroke="#8ab8ee" stroke-width="1.1"/>
<circle cx="433.1" cy="302.6" r="3.5" fill="#fffafa" stroke="#d0aeac" stroke-width="1.1"/>
<circle cx="450.3" cy="304.2" r="3.5" fill="url(#gNR2)" stroke="#8ab8ee" stroke-width="1.1"/>
<circle cx="481.0" cy="305.0" r="3.5" fill="#fffafa" stroke="#d0aeac" stroke-width="1.1"/>
<circle cx="407.3" cy="321.2" r="5.0" fill="url(#gGa)"/>
<circle cx="456.8" cy="322.0" r="5.0" fill="url(#gGa)"/>
<circle cx="473.7" cy="322.0" r="5.0" fill="url(#gN)"/>
<circle cx="400.1" cy="337.8" r="3.5" fill="url(#gNR2)" stroke="#8ab8ee" stroke-width="1.1"/>
<circle cx="433.1" cy="338.1" r="3.5" fill="#fffafa" stroke="#d0aeac" stroke-width="1.1"/>
<circle cx="450.3" cy="338.1" r="3.5" fill="url(#gNR2)" stroke="#8ab8ee" stroke-width="1.1"/>
<circle cx="481.0" cy="337.3" r="3.5" fill="#fffafa" stroke="#d0aeac" stroke-width="1.1"/>
<circle cx="318.6" cy="319.7" r="5.7" fill="url(#gO)"/>
<circle cx="338.8" cy="319.8" r="5.7" fill="url(#gO)"/>
<circle cx="328.3" cy="320.2" r="5.7" fill="url(#gC)"/>
<circle cx="418.6" cy="321.2" r="5.7" fill="url(#gO)"/>
<circle cx="440.4" cy="321.2" r="5.7" fill="url(#gO)"/>
<circle cx="429.1" cy="321.5" r="5.7" fill="url(#gC)"/>
<text x="303.3" y="306.6" font-size="10" font-weight="bold" text-anchor="start" fill="#222" textLength="12.1" lengthAdjust="spacingAndGlyphs" >N3</text>
<text x="405.7" y="307.5" font-size="10" text-anchor="start" fill="#222" textLength="11.3" lengthAdjust="spacingAndGlyphs" >N3</text>
<line x1="303.8" y1="380.8" x2="313.3" y2="382.8" stroke="#f0c8f0" stroke-width="2"/>
<line x1="313.3" y1="382.8" x2="322.8" y2="384.8" stroke="#b0d2f6" stroke-width="2"/>
<line x1="351.1" y1="382.6" x2="360.4" y2="383.1" stroke="#f0d0ce" stroke-width="2"/>
<line x1="360.4" y1="383.1" x2="369.6" y2="383.6" stroke="#b0d2f6" stroke-width="2"/>
<line x1="303.8" y1="380.8" x2="300.4" y2="386.5" stroke="#f0c8f0" stroke-width="2"/>
<line x1="300.4" y1="386.5" x2="296.9" y2="392.2" stroke="#b0d2f6" stroke-width="2"/>
<line x1="322.8" y1="384.8" x2="325.4" y2="389.1" stroke="#b0d2f6" stroke-width="2"/>
<line x1="325.4" y1="389.1" x2="328.0" y2="393.4" stroke="#f0d0ce" stroke-width="2"/>
<line x1="351.1" y1="382.6" x2="348.8" y2="387.9" stroke="#f0d0ce" stroke-width="2"/>
<line x1="348.8" y1="387.9" x2="346.5" y2="393.2" stroke="#b0d2f6" stroke-width="2"/>
<line x1="369.6" y1="383.6" x2="373.3" y2="387.8" stroke="#b0d2f6" stroke-width="2"/>
<line x1="373.3" y1="387.8" x2="377.0" y2="392.0" stroke="#f0d0ce" stroke-width="2"/>
<line x1="328.0" y1="393.4" x2="337.2" y2="393.3" stroke="#f0d0ce" stroke-width="2"/>
<line x1="337.2" y1="393.3" x2="346.5" y2="393.2" stroke="#b0d2f6" stroke-width="2"/>
<line x1="296.9" y1="392.2" x2="292.9" y2="392.2" stroke="#b0d2f6" stroke-width="1.6"/>
<line x1="292.9" y1="392.2" x2="288.9" y2="392.2" stroke="#fff0" stroke-width="1.6"/>
<line x1="377.0" y1="392.0" x2="381.0" y2="392.0" stroke="#f0d0ce" stroke-width="1.6"/>
<line x1="381.0" y1="392.0" x2="385.0" y2="392.0" stroke="#fff0" stroke-width="1.6"/>
<line x1="296.9" y1="392.2" x2="297.6" y2="396.2" stroke="#b0d2f6" stroke-width="1.6"/>
<line x1="297.6" y1="396.2" x2="298.4" y2="400.2" stroke="#fff0" stroke-width="1.6"/>
<line x1="328.0" y1="393.4" x2="327.2" y2="397.4" stroke="#f0d0ce" stroke-width="1.6"/>
<line x1="327.2" y1="397.4" x2="326.5" y2="401.4" stroke="#fff0" stroke-width="1.6"/>
<line x1="346.5" y1="393.2" x2="347.2" y2="397.2" stroke="#b0d2f6" stroke-width="1.6"/>
<line x1="347.2" y1="397.2" x2="348.0" y2="401.2" stroke="#fff0" stroke-width="1.6"/>
<line x1="377.0" y1="392.0" x2="376.2" y2="396.0" stroke="#f0d0ce" stroke-width="1.6"/>
<line x1="376.2" y1="396.0" x2="375.5" y2="400.0" stroke="#fff0" stroke-width="1.6"/>
<line x1="317.1" y1="362.1" x2="311.2" y2="370.0" stroke="#e01010" stroke-width="2"/>
<line x1="311.2" y1="370.0" x2="305.3" y2="377.8" stroke="#f0c8f0" stroke-width="2"/>
<line x1="326.6" y1="370.7" x2="325.2" y2="375.8" stroke="#20c020" stroke-width="2"/>
<line x1="325.2" y1="375.8" x2="323.8" y2="380.8" stroke="#b0d2f6" stroke-width="2"/>
<line x1="337.8" y1="367.0" x2="344.0" y2="373.3" stroke="#e01010" stroke-width="2"/>
<line x1="344.0" y1="373.3" x2="350.1" y2="379.6" stroke="#f0d0ce" stroke-width="2"/>
<circle cx="296.9" cy="392.2" r="3.8000000000000003" fill="url(#gNR2)" stroke="#8ab8ee" stroke-width="1.1"/>
<circle cx="328.0" cy="393.4" r="3.6" fill="#fffafa" stroke="#d0aeac" stroke-width="1.1"/>
<circle cx="346.5" cy="393.2" r="3.8000000000000003" fill="url(#gNR2)" stroke="#8ab8ee" stroke-width="1.1"/>
<circle cx="377.0" cy="392.0" r="3.6" fill="#fffafa" stroke="#d0aeac" stroke-width="1.1"/>
<circle cx="305.6" cy="387.4" r="4.2" fill="url(#gGa)"/>
<circle cx="303.8" cy="380.8" r="4.6" fill="url(#gMg)"/>
<circle cx="322.8" cy="384.8" r="5.2" fill="url(#gN)"/>
<circle cx="354.6" cy="385.6" r="4.6" fill="url(#gGa)"/>
<circle cx="351.1" cy="382.6" r="5.0" fill="url(#gGa)"/>
<circle cx="371.9" cy="382.0" r="4.6" fill="url(#gN)"/>
<circle cx="369.6" cy="383.6" r="5.2" fill="url(#gN)"/>
<circle cx="317.1" cy="362.1" r="5.8" fill="url(#gO)"/>
<circle cx="337.8" cy="367.0" r="5.8" fill="url(#gO)"/>
<circle cx="326.6" cy="370.7" r="5.8" fill="url(#gC)"/>
<line x1="408.3" y1="380.8" x2="417.8" y2="382.8" stroke="#f0c4b0" stroke-width="2"/>
<line x1="417.8" y1="382.8" x2="427.3" y2="384.8" stroke="#b0d2f6" stroke-width="2"/>
<line x1="455.6" y1="382.6" x2="464.9" y2="383.1" stroke="#f0d0ce" stroke-width="2"/>
<line x1="464.9" y1="383.1" x2="474.1" y2="383.6" stroke="#b0d2f6" stroke-width="2"/>
<line x1="408.3" y1="380.8" x2="404.9" y2="386.5" stroke="#f0c4b0" stroke-width="2"/>
<line x1="404.9" y1="386.5" x2="401.4" y2="392.2" stroke="#b0d2f6" stroke-width="2"/>
<line x1="427.3" y1="384.8" x2="429.9" y2="389.1" stroke="#b0d2f6" stroke-width="2"/>
<line x1="429.9" y1="389.1" x2="432.5" y2="393.4" stroke="#f0d0ce" stroke-width="2"/>
<line x1="455.6" y1="382.6" x2="453.3" y2="387.9" stroke="#f0d0ce" stroke-width="2"/>
<line x1="453.3" y1="387.9" x2="451.0" y2="393.2" stroke="#b0d2f6" stroke-width="2"/>
<line x1="474.1" y1="383.6" x2="477.8" y2="387.8" stroke="#b0d2f6" stroke-width="2"/>
<line x1="477.8" y1="387.8" x2="481.5" y2="392.0" stroke="#f0d0ce" stroke-width="2"/>
<line x1="432.5" y1="393.4" x2="441.8" y2="393.3" stroke="#f0d0ce" stroke-width="2"/>
<line x1="441.8" y1="393.3" x2="451.0" y2="393.2" stroke="#b0d2f6" stroke-width="2"/>
<line x1="401.4" y1="392.2" x2="397.4" y2="392.2" stroke="#b0d2f6" stroke-width="1.6"/>
<line x1="397.4" y1="392.2" x2="393.4" y2="392.2" stroke="#fff0" stroke-width="1.6"/>
<line x1="481.5" y1="392.0" x2="485.5" y2="392.0" stroke="#f0d0ce" stroke-width="1.6"/>
<line x1="485.5" y1="392.0" x2="489.5" y2="392.0" stroke="#fff0" stroke-width="1.6"/>
<line x1="401.4" y1="392.2" x2="402.1" y2="396.2" stroke="#b0d2f6" stroke-width="1.6"/>
<line x1="402.1" y1="396.2" x2="402.9" y2="400.2" stroke="#fff0" stroke-width="1.6"/>
<line x1="432.5" y1="393.4" x2="431.8" y2="397.4" stroke="#f0d0ce" stroke-width="1.6"/>
<line x1="431.8" y1="397.4" x2="431.0" y2="401.4" stroke="#fff0" stroke-width="1.6"/>
<line x1="451.0" y1="393.2" x2="451.8" y2="397.2" stroke="#b0d2f6" stroke-width="1.6"/>
<line x1="451.8" y1="397.2" x2="452.5" y2="401.2" stroke="#fff0" stroke-width="1.6"/>
<line x1="481.5" y1="392.0" x2="480.8" y2="396.0" stroke="#f0d0ce" stroke-width="1.6"/>
<line x1="480.8" y1="396.0" x2="480.0" y2="400.0" stroke="#fff0" stroke-width="1.6"/>
<line x1="418.8" y1="364.4" x2="414.3" y2="371.1" stroke="#e01010" stroke-width="2"/>
<line x1="414.3" y1="371.1" x2="409.8" y2="377.8" stroke="#f0c4b0" stroke-width="2"/>
<line x1="429.2" y1="371.9" x2="428.8" y2="376.4" stroke="#20c020" stroke-width="2"/>
<line x1="428.8" y1="376.4" x2="428.3" y2="380.8" stroke="#b0d2f6" stroke-width="2"/>
<circle cx="401.4" cy="392.2" r="3.8000000000000003" fill="url(#gNR2)" stroke="#8ab8ee" stroke-width="1.1"/>
<circle cx="432.5" cy="393.4" r="3.6" fill="#fffafa" stroke="#d0aeac" stroke-width="1.1"/>
<circle cx="451.0" cy="393.2" r="3.8000000000000003" fill="url(#gNR2)" stroke="#8ab8ee" stroke-width="1.1"/>
<circle cx="481.5" cy="392.0" r="3.6" fill="#fffafa" stroke="#d0aeac" stroke-width="1.1"/>
<circle cx="408.3" cy="380.8" r="5.0" fill="url(#gGeS)"/>
<circle cx="427.3" cy="384.8" r="5.2" fill="url(#gN)"/>
<circle cx="459.1" cy="385.6" r="4.6" fill="url(#gGa)"/>
<circle cx="455.6" cy="382.6" r="5.0" fill="url(#gGa)"/>
<circle cx="476.4" cy="382.0" r="4.6" fill="url(#gN)"/>
<circle cx="474.1" cy="383.6" r="5.2" fill="url(#gN)"/>
<circle cx="418.8" cy="364.4" r="5.8" fill="url(#gO)"/>
<circle cx="440.8" cy="367.1" r="5.8" fill="url(#gO)"/>
<circle cx="429.2" cy="371.9" r="5.8" fill="url(#gC)"/>
<text x="479.8" y="247.4" font-size="28" text-anchor="start" fill="#000" >f</text>
<line x1="534.6" y1="396.6" x2="536.4" y2="396.6" stroke="#000" stroke-width="1.2" />
<text x="532.2" y="403.6" font-size="13.8" font-weight="bold" text-anchor="end" fill="#000" textLength="6.4" lengthAdjust="spacingAndGlyphs" >0</text>
<line x1="534.6" y1="355.70000000000005" x2="536.4" y2="355.70000000000005" stroke="#000" stroke-width="1.2" />
<text x="532.2" y="362.70000000000005" font-size="13.8" font-weight="bold" text-anchor="end" fill="#000" textLength="6.4" lengthAdjust="spacingAndGlyphs" >5</text>
<line x1="534.6" y1="314.8" x2="536.4" y2="314.8" stroke="#000" stroke-width="1.2" />
<text x="532.2" y="321.8" font-size="13.8" font-weight="bold" text-anchor="end" fill="#000" textLength="12.8" lengthAdjust="spacingAndGlyphs" >10</text>
<line x1="534.6" y1="273.90000000000003" x2="536.4" y2="273.90000000000003" stroke="#000" stroke-width="1.2" />
<text x="532.2" y="280.90000000000003" font-size="13.8" font-weight="bold" text-anchor="end" fill="#000" textLength="12.8" lengthAdjust="spacingAndGlyphs" >15</text>
<line x1="534.6" y1="233.00000000000003" x2="536.4" y2="233.00000000000003" stroke="#000" stroke-width="1.2" />
<text x="532.2" y="239.90000000000003" font-size="13.8" font-weight="bold" text-anchor="end" fill="#000" textLength="12.8" lengthAdjust="spacingAndGlyphs" >20</text>
<line x1="535.2" y1="376.15000000000003" x2="536.4" y2="376.15000000000003" stroke="#000" stroke-width="1" />
<line x1="535.2" y1="335.25" x2="536.4" y2="335.25" stroke="#000" stroke-width="1" />
<line x1="535.2" y1="294.35" x2="536.4" y2="294.35" stroke="#000" stroke-width="1" />
<line x1="535.2" y1="253.45000000000002" x2="536.4" y2="253.45000000000002" stroke="#000" stroke-width="1" />
<rect x="556.7" y="395.0" width="9.099999999999909" height="1.8999999999999773" fill="#ff0000" stroke="none" stroke-width="0" />
<rect x="565.8" y="356.0" width="9.100000000000023" height="40.89999999999998" fill="#0000ff" stroke="none" stroke-width="0" />
<rect x="574.9" y="349.3" width="9.100000000000023" height="47.599999999999966" fill="#ff00ff" stroke="none" stroke-width="0" />
<rect x="584.0" y="245.8" width="9.0" height="151.09999999999997" fill="#008000" stroke="none" stroke-width="0" />
<rect x="638.3" y="391.3" width="9.100000000000023" height="5.599999999999966" fill="#000000" stroke="none" stroke-width="0" />
<rect x="647.4" y="386.4" width="8.800000000000068" height="10.5" fill="#ff0000" stroke="none" stroke-width="0" />
<rect x="656.2" y="294.8" width="9.299999999999955" height="102.09999999999997" fill="#0000ff" stroke="none" stroke-width="0" />
<rect x="665.5" y="282.8" width="9.200000000000045" height="114.09999999999997" fill="#ff00ff" stroke="none" stroke-width="0" />
<rect x="674.7" y="319.6" width="9.199999999999932" height="77.29999999999995" fill="#008000" stroke="none" stroke-width="0" />
<rect x="537.3" y="225.5" width="161.5" height="171.6" fill="none" stroke="#000" stroke-width="2.6" rx="1"/>
<line x1="570.2" y1="397.5" x2="570.2" y2="400" stroke="#000" stroke-width="1.3" />
<line x1="661" y1="397.5" x2="661" y2="400" stroke="#000" stroke-width="1.3" />
<rect x="597.4" y="230.1" width="9.6" height="5.3" fill="#000000" stroke="none" stroke-width="0" />
<text x="610.7" y="235.3" font-size="9.6" font-weight="bold" text-anchor="start" fill="#111" textLength="47.2" lengthAdjust="spacingAndGlyphs" >EA control</text>
<rect x="597.4" y="242.7" width="9.6" height="5.3" fill="#ff0000" stroke="none" stroke-width="0" />
<text x="610.7" y="248.3" font-size="9.6" font-weight="bold" text-anchor="start" fill="#111" textLength="48.3" lengthAdjust="spacingAndGlyphs" >Fe(II) in EA</text>
<rect x="597.4" y="255.5" width="9.6" height="5.3" fill="#0000ff" stroke="none" stroke-width="0" />
<text x="610.7" y="261.0" font-size="9.6" font-weight="bold" fill="#111" textLength="65.1" lengthAdjust="spacingAndGlyphs">Fe(II), CsPbBr<tspan dy="2.2" font-size="6.5">3</tspan></text>
<rect x="597.4" y="268.3" width="9.6" height="5.3" fill="#ff00ff" stroke="none" stroke-width="0" />
<text x="610.7" y="273.9" font-size="9.6" font-weight="bold" fill="#111" textLength="38" lengthAdjust="spacingAndGlyphs">CsPbBr<tspan dy="2.2" font-size="6.5">3</tspan></text>
<rect x="597.4" y="280.9" width="9.6" height="5.3" fill="#008000" stroke="none" stroke-width="0" />
<text x="610.7" y="286.6" font-size="9.6" font-weight="bold" fill="#111" textLength="54.9" lengthAdjust="spacingAndGlyphs">Fe: CsPbBr<tspan dy="2.2" font-size="6.5">3</tspan></text>
<text x="559.7" y="412.4" font-size="13.3" fill="#111" stroke="#111" stroke-width="0.3">CH<tspan dy="2.8" font-size="9">4</tspan></text>
<text x="651.6" y="412.4" font-size="13.3" text-anchor="start" fill="#111" textLength="19.3" lengthAdjust="spacingAndGlyphs" stroke="#111" stroke-width="0.3">CO</text>
<text x="575" y="431.8" font-size="16" text-anchor="start" fill="#111" textLength="81" lengthAdjust="spacingAndGlyphs" stroke="#111" stroke-width="0.3">Gas Evolved</text>
<text transform="translate(513.2,404) rotate(-90)" font-size="12.8" font-weight="bold" textLength="176.4" lengthAdjust="spacingAndGlyphs">Amount of Gas (μmol g<tspan dy="-4.6" font-size="8.5">−1</tspan><tspan dy="4.6">)</tspan></text>
</svg>
</body></html>
